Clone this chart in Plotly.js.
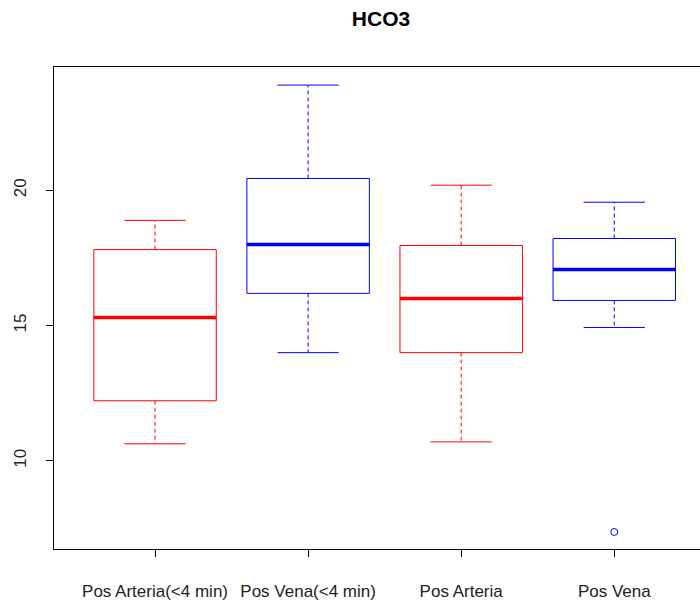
<!DOCTYPE html>
<html>
<head>
<meta charset="utf-8">
<script src="https://cdn.plot.ly/plotly-3.0.1.min.js"></script>
<style>html,body{margin:0;padding:0;background:#fff;}#chart{width:700px;height:602px;}</style>
</head>
<body>
<div id="chart"></div>
<script>
const categories = ["Pos Arteria(<4 min)", "Pos Vena(<4 min)", "Pos Arteria", "Pos Vena"];
const lowerWhisker = [10.63, 14.0, 10.7, 14.93];
const q1 = [12.22, 16.19, 14.0, 15.93];
const median = [15.3, 18.0, 16.0, 17.07];
const q3 = [17.81, 20.44, 17.96, 18.22];
const upperWhisker = [18.89, 23.89, 20.19, 19.56];
const outliers = [[], [], [], [7.37]];
const colors = ["#ff0000", "#0000ff", "#ff0000", "#0000ff"];

const traces = [];
const hw = 0.4, cw = 0.2;
categories.forEach((cat, k) => {
  const i = k + 1;
  const c = colors[k];
  traces.push({type:'scatter', mode:'lines', x:[i, i, null, i, i], y:[q3[k], upperWhisker[k], null, q1[k], lowerWhisker[k]],
    line:{color:c, width:1, dash:'4px,3px'}, hoverinfo:'skip'});
  traces.push({type:'scatter', mode:'lines', x:[i-cw, i+cw, null, i-cw, i+cw], y:[upperWhisker[k], upperWhisker[k], null, lowerWhisker[k], lowerWhisker[k]],
    line:{color:c, width:1}, hoverinfo:'skip'});
  traces.push({type:'scatter', mode:'lines', x:[i-hw, i+hw, i+hw, i-hw, i-hw], y:[q1[k], q1[k], q3[k], q3[k], q1[k]],
    line:{color:c, width:1}, hoverinfo:'skip'});
  traces.push({type:'scatter', mode:'lines', x:[i-hw, i+hw], y:[median[k], median[k]],
    line:{color:c, width:3.5}, hoverinfo:'skip'});
  if (outliers[k].length) {
    traces.push({type:'scatter', mode:'markers', x:outliers[k].map(() => i), y:outliers[k],
      marker:{symbol:'circle-open', size:7, color:c, line:{width:1, color:c}}, hoverinfo:'skip'});
  }
});

const layout = {
  width:700, height:602,
  margin:{l:54, r:0, t:67, b:53},
  paper_bgcolor:'#fff', plot_bgcolor:'#fff',
  showlegend:false,
  font:{family:'"Liberation Sans", Arial, sans-serif', color:'#222'},
  title:{text:'<b>HCO3</b>', x:381/700, xanchor:'center', yref:'container', y:1-19/602, yanchor:'middle',
    font:{size:21, color:'#000', family:'"Liberation Sans", Arial, sans-serif'}},
  xaxis:{range:[0.34, 4.56], tickvals:[1,2,3,4], ticktext:categories, showgrid:false, zeroline:false,
    showline:true, mirror:true, linecolor:'#000', linewidth:1,
    ticks:'outside', ticklen:7, tickcolor:'#000', ticklabelstandoff:20,
    tickfont:{size:17, color:'#222'}},
  yaxis:{range:[6.74, 24.56], tickvals:[10,15,20], showgrid:false, zeroline:false,
    showline:true, mirror:false, linecolor:'#000', linewidth:1,
    ticks:'outside', ticklen:7, tickcolor:'#000', tickangle:-90, ticklabelstandoff:13,
    tickfont:{size:17, color:'#222'}}
};

Plotly.newPlot('chart', traces, layout, {staticPlot:true, displayModeBar:false});
</script>
</body>
</html>
